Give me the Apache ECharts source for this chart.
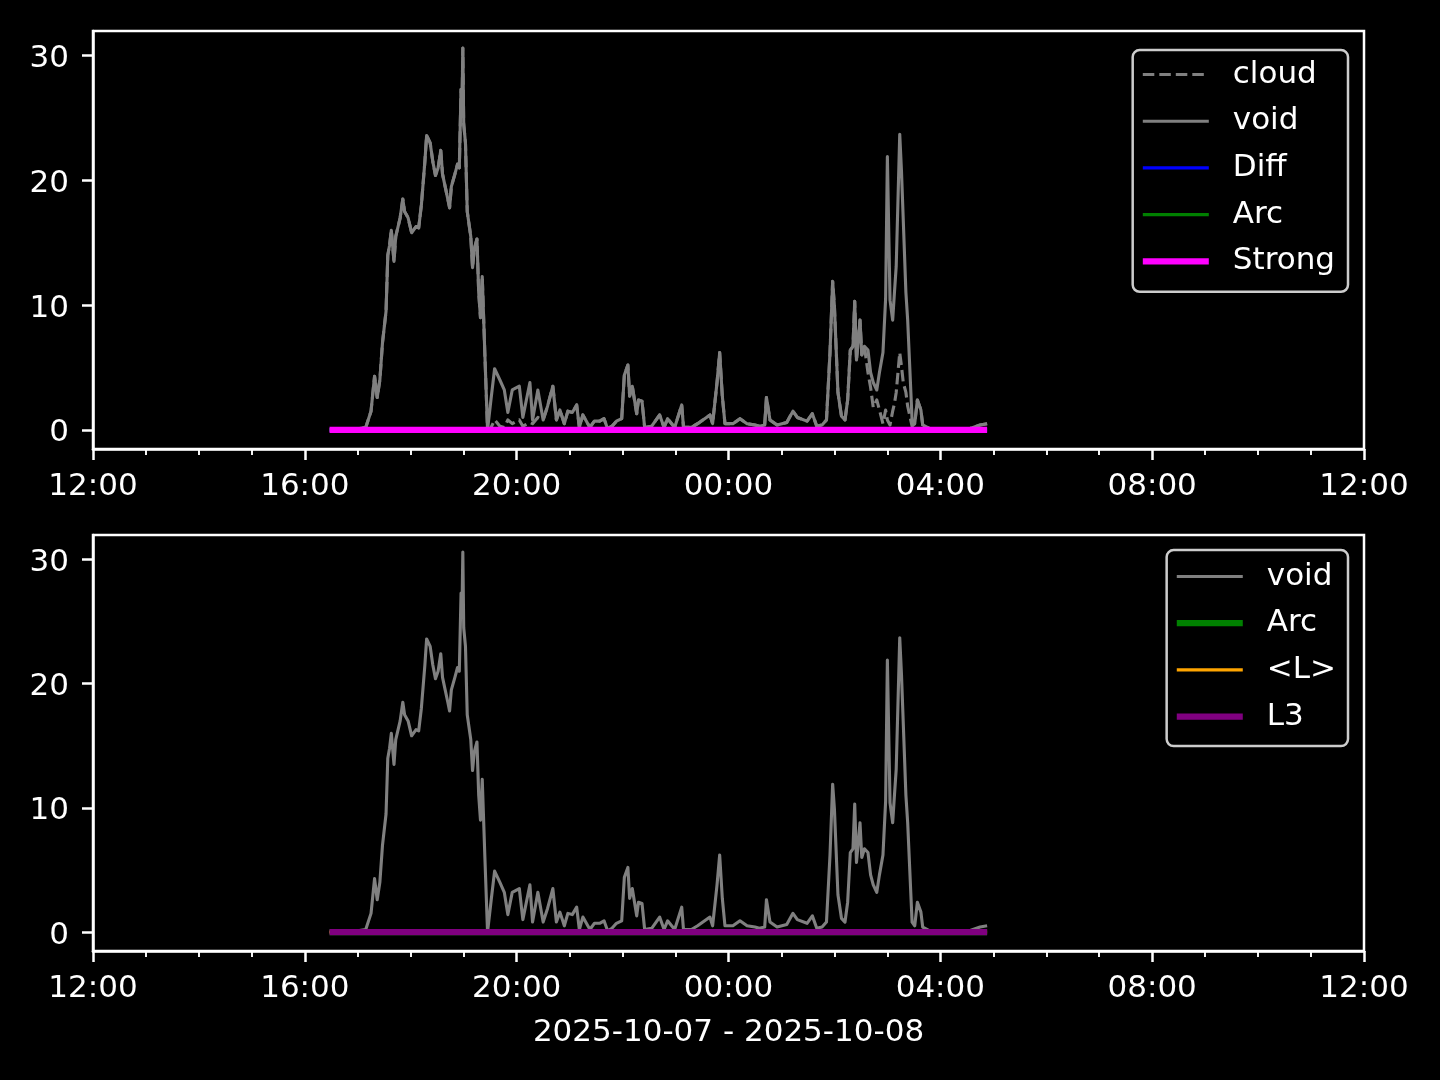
<!DOCTYPE html>
<html>
<head>
<meta charset="utf-8">
<script src="https://cdn.jsdelivr.net/npm/echarts@6/dist/echarts.min.js"></script>
<style>
html,body{margin:0;padding:0;background:#000;}
#c{width:1440px;height:1080px;}
</style>
</head>
<body>
<div id="c"></div>
<script>
// ---- data ----
const xTickLabels = ["12:00","16:00","20:00","00:00","04:00","08:00","12:00"];
const yTicks = [0, 10, 20, 30];
const xLabel = "2025-10-07 - 2025-10-08";

const times = [
"16:28","16:51","17:09","17:15","17:19","17:22","17:25","17:28","17:32","17:34",
"17:36","17:38","17:41","17:43","17:48","17:51","17:53","17:57","18:01","18:06",
"18:09","18:12","18:16","18:18","18:22","18:25","18:28","18:31","18:34","18:36",
"18:39","18:42","18:44","18:46","18:50","18:53","18:55","18:57","18:58","18:59",
"19:00","19:02","19:04","19:08","19:10","19:12","19:15","19:17","19:19","19:21",
"19:24","19:27","19:31","19:35","19:41","19:46","19:50","19:55","20:03","20:07",
"20:15","20:18","20:24","20:30","20:35","20:41","20:45","20:49","20:54","20:58",
"21:03","21:08","21:11","21:15","21:23","21:28","21:34","21:39","21:43","21:48",
"21:53","21:59","22:02","22:06","22:08","22:11","22:16","22:18","22:22","22:25",
"22:33","22:42","22:47","22:51","22:59","23:07","23:09","23:18","23:25","23:33",
"23:39","23:42","23:47","23:50","23:53","23:56","00:05","00:13","00:21","00:30",
"00:35","00:41","00:43","00:47","00:55","01:06","01:13","01:18","01:29","01:35",
"01:40","01:46","01:51","01:55","01:58","02:00","02:04","02:08","02:12","02:15",
"02:18","02:21","02:23","02:25","02:29","02:31","02:34","02:38","02:41","02:44",
"02:48","02:51","02:55","02:58","03:00","03:03","03:06","03:08","03:10","03:14",
"03:16","03:18","03:21","03:23","03:28","03:31","03:34","03:38","03:40","03:48",
"04:11","04:33","04:45","04:53"
];

const voidVals = [
0,0,0.2,1.5,4.3,2.6,4.0,7.0,9.5,14.0,
14.8,16.0,13.5,15.5,17.0,18.5,17.5,17.0,15.8,16.3,
16.2,18.0,21.5,23.6,23.0,21.5,20.4,21.0,22.4,20.5,
19.5,18.5,17.8,19.5,20.5,21.3,21.0,27.3,25.5,30.6,
24.5,23.0,17.5,15.5,13.0,14.5,15.3,11.0,9.0,12.3,
6.0,0,2.5,4.9,4.0,3.2,1.4,3.2,3.5,1.0,
3.8,0.8,3.2,0.8,1.9,3.5,0.8,1.6,0.5,1.5,
1.4,2.0,0.2,1.2,0.2,0.7,0.7,0.9,0.1,0.3,
0.7,0.9,4.4,5.2,2.7,3.5,1.3,2.4,2.3,0.2,
0.3,1.2,0.2,0.9,0.2,2.0,0.2,0.2,0.5,0.9,
1.2,0.5,3.8,6.2,2.7,0.5,0.5,0.9,0.5,0.4,
0.3,0.4,2.6,0.8,0.4,0.6,1.5,1.0,0.7,1.3,
0.3,0.4,0.8,6.2,11.9,9.9,3.0,1.1,0.8,2.4,
6.4,6.7,10.3,5.6,8.8,6.0,6.7,6.4,4.6,3.8,
3.2,4.6,6.2,10.5,21.9,10.4,8.8,11.0,13.1,23.7,
20.7,20.8,11.0,8.8,0.8,0.5,2.4,1.6,0.4,0.1,
0.1,0.1,0.4,0.5
];

const cloudVals = [
0,0,0.2,1.5,4.3,2.6,4.0,7.0,9.5,14.0,
14.8,16.0,13.5,15.5,17.0,18.5,17.5,17.0,15.8,16.3,
16.2,18.0,21.5,23.6,23.0,21.5,20.4,21.0,22.4,20.5,
19.5,18.5,17.8,19.5,20.5,21.3,21.0,27.3,25.5,30.6,
24.5,23.0,17.5,15.5,13.0,14.5,15.3,11.0,9.0,12.3,
6.0,0,0.2,0.8,0.3,0.2,0.8,0.5,0.8,0.3,
0.6,0.5,1.0,0.8,1.9,3.5,0.8,1.6,0.5,1.5,
1.4,2.0,0.2,1.2,0.2,0.7,0.7,0.9,0.1,0.3,
0.7,0.9,4.4,5.2,2.7,3.5,1.3,2.4,2.3,0.2,
0.3,1.2,0.2,0.9,0.2,2.0,0.2,0.2,0.5,0.9,
1.2,0.5,3.8,6.2,2.7,0.5,0.5,0.9,0.5,0.4,
0.3,0.4,2.6,0.8,0.4,0.6,1.5,1.0,0.7,1.3,
0.3,0.4,0.8,6.2,11.9,9.9,3.0,1.1,0.8,2.4,
6.4,6.7,10.3,5.6,8.8,6.0,6.7,4.6,3.4,1.8,
2.4,1.6,0.5,1.6,0.8,0.4,1.5,2.1,3.0,6.2,
5.1,3.8,3.0,1.9,0.3,0.5,2.4,1.6,0.4,0.1,
0.1,0.1,0.4,0.5
];

// flat series (all zero over the recorded span)
const flatTimes = ["16:28","04:53"];
const diffVals = [0, 0];
const arcVals = [0, 0];
const strongVals = [0, 0];
const meanLVals = [0, 0];
const l3Vals = [0, 0];

// ---- helpers ----
function toH(t){
  const p = t.split(":");
  let h = +p[0] + (+p[1])/60;
  if (h < 12) h += 24;
  return h - 12;
}
function pairs(ts, vs){ return ts.map((t,i)=>[toH(t), vs[i]]); }

const FONT = "DejaVu Sans";
const FS = 31;
const WHITE = "#ffffff";
const GRAY = "#808080";
const THIN = 3.1, THICK = 6.25;
const DASH = [11.5, 5];

function xAxisCfg(gridIndex, withName){
  const a = {
    type:"value", gridIndex, min:0, max:24, interval:4,
    axisLine:{show:true, onZero:false, lineStyle:{color:WHITE, width:2.5}},
    axisTick:{show:true, length:11, inside:false, lineStyle:{color:WHITE, width:2.5}},
    minorTick:{show:true, splitNumber:4, length:6, lineStyle:{color:WHITE, width:1.9}},
    splitLine:{show:false}, minorSplitLine:{show:false},
    axisLabel:{color:WHITE, fontFamily:FONT, fontSize:FS, margin:22,
      formatter:(v)=>xTickLabels[Math.round(v/4)]}
  };
  if (withName){
    a.name = xLabel; a.nameLocation = "middle"; a.nameGap = 66;
    a.nameTextStyle = {color:WHITE, fontFamily:FONT, fontSize:FS};
  }
  return a;
}
function yAxisCfg(gridIndex){
  return {
    type:"value", gridIndex, min:-1.53, max:31.97,
    axisLine:{show:true, onZero:false, lineStyle:{color:WHITE, width:2.5}},
    axisTick:{show:true, length:11, inside:false, customValues:yTicks, lineStyle:{color:WHITE, width:2.5}},
    axisLabel:{color:WHITE, fontFamily:FONT, fontSize:FS, margin:24, customValues:yTicks,
      verticalAlign:"top", lineHeight:7, formatter:(v)=>String(Math.round(v))},
    splitLine:{show:false}
  };
}
function line(name, xi, data, color, width, dash){
  return {
    name, type:"line", xAxisIndex:xi, yAxisIndex:xi, data,
    symbol:"none", showSymbol:false, animation:false, clip:true,
    lineStyle:{color, width, type: dash || "solid", join:"round", cap:"butt"},
    itemStyle:{color},
    emphasis:{disabled:true}
  };
}
function legendItem(name, color, width, dash){
  return {name, itemStyle:{opacity:0, color:"transparent", borderWidth:0},
    lineStyle:{color, width, type: dash || "solid", opacity:1}};
}
function legendCfg(items, top, padding){
  return {
    show:true, orient:"vertical", right:92, top, padding,
    data:items, selectedMode:false,
    itemWidth:66, itemHeight:14, itemGap:15.7,
    itemStyle:{opacity:0},
    backgroundColor:"#000000", borderColor:"#cccccc", borderWidth:2.5, borderRadius:7,
    textStyle:{color:WHITE, fontFamily:FONT, fontSize:FS, lineHeight:31, padding:[0,0,0,19]}
  };
}

const chart = echarts.init(document.getElementById("c"), null, {renderer:"canvas"});
chart.setOption({
  backgroundColor:"#000000",
  animation:false,
  grid:[
    {left:93, top:31, width:1271, height:418, show:true, borderColor:WHITE, borderWidth:2.5, backgroundColor:"transparent"},
    {left:93, top:535, width:1271, height:416, show:true, borderColor:WHITE, borderWidth:2.5, backgroundColor:"transparent"}
  ],
  xAxis:[xAxisCfg(0,false), xAxisCfg(1,true)],
  yAxis:[yAxisCfg(0), yAxisCfg(1)],
  legend:[
    legendCfg([
      legendItem("cloud", GRAY, THIN, DASH),
      legendItem("void", GRAY, THIN),
      legendItem("Diff", "#0000ff", THIN),
      legendItem("Arc", "#008000", THIN),
      legendItem("Strong", "#ff00ff", THICK)
    ], 50, [9,13,15,7]),
    legendCfg([
      legendItem("void", GRAY, THIN),
      legendItem("Arc", "#008000", THICK),
      legendItem("<L>", "#ffa500", THIN),
      legendItem("L3", "#800080", THICK)
    ], 550, [11,12,14,7])
  ],
  series:[
    line("cloud", 0, pairs(times, cloudVals), GRAY, THIN, DASH),
    line("void", 0, pairs(times, voidVals), GRAY, THIN),
    line("Diff", 0, pairs(flatTimes, diffVals), "#0000ff", THIN),
    line("Arc", 0, pairs(flatTimes, arcVals), "#008000", THIN),
    line("Strong", 0, pairs(flatTimes, strongVals), "#ff00ff", THICK),
    line("void", 1, pairs(times, voidVals), GRAY, THIN),
    line("Arc", 1, pairs(flatTimes, arcVals), "#008000", THICK),
    line("<L>", 1, pairs(flatTimes, meanLVals), "#ffa500", THIN),
    line("L3", 1, pairs(flatTimes, l3Vals), "#800080", THICK)
  ]
});
</script>
</body>
</html>
